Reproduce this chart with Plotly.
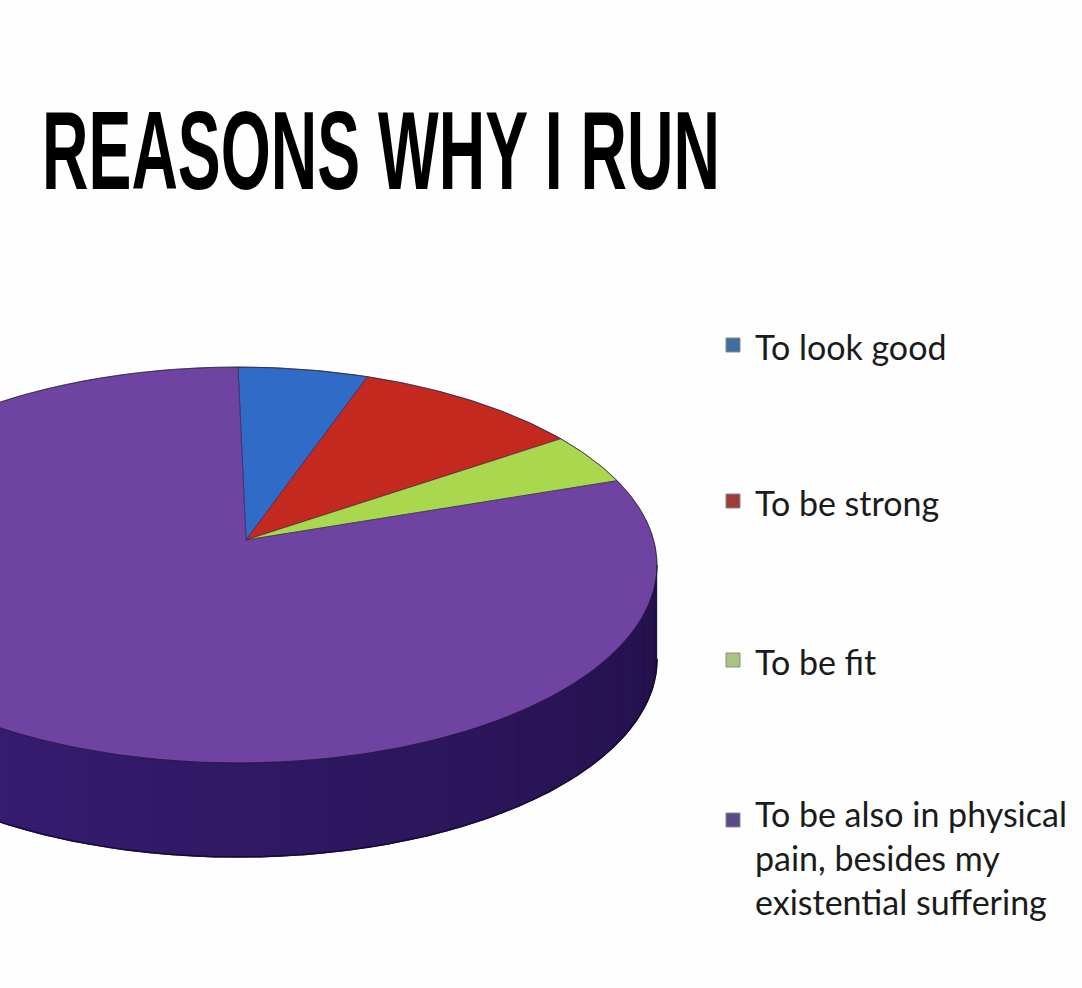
import numpy as np
import plotly.graph_objects as go

# ---- data ----
categories = ["To look good", "To be strong", "To be fit",
              "To be also in physical pain, besides my existential suffering"]
legend_labels = ["To look good", "To be strong", "To be fit",
                 "To be also in physical<br>pain, besides my<br>existential suffering"]
values = [5, 9, 4, 82]
title_text = "REASONS WHY I RUN"

# ---- style ----
top_colors = ["#2f6bc7", "#c4291f", "#a9d84f", "#6f43a1"]
legend_colors = ["#3c6e9e", "#9e3b3b", "#a9c47f", "#5b4a86"]
W, H = 1082, 988
CX, CY, A, B = 238, 565, 419, 198      # ellipse of the pie top
APEX = (246, 540)                       # projected pie centre
DEPTH = 94
LEG_X = 726
LEG_Y = [345, 501, 660, 820]
TITLE_W = 678                           # target rendered width of the title


def ell(t_deg, dy=0.0):
    r = np.radians(t_deg)
    return CX + A * np.sin(r), CY - B * np.cos(r) + dy


def mix(c1, c2, f):
    a = [int(c1[i:i + 2], 16) for i in (1, 3, 5)]
    b = [int(c2[i:i + 2], 16) for i in (1, 3, 5)]
    return "#%02x%02x%02x" % tuple(int(round(a[k] + (b[k] - a[k]) * f)) for k in range(3))


fig = go.Figure()

# side wall (front half, t from 90 to 270), shaded dark (right) -> lighter (left)
N = 60
for k in range(N):
    t0 = 90 + 180 * k / N
    t1 = 90 + 180 * (k + 1) / N
    ts = np.linspace(t0, t1, 5)
    xt, yt = ell(ts)
    xb, yb = ell(ts[::-1], DEPTH)
    f = (k + 0.5) / N
    col = mix("#22104a", "#3e2180", f)
    fig.add_trace(go.Scatter(
        x=np.concatenate([xt, xb]), y=np.concatenate([yt, yb]),
        fill="toself", fillcolor=col, mode="lines",
        line=dict(color=col, width=1.5), hoverinfo="skip", showlegend=False))

# wall bottom outline
ts = np.linspace(90, 270, 200)
xb, yb = ell(ts, DEPTH)
fig.add_trace(go.Scatter(x=xb, y=yb, mode="lines",
                         line=dict(color="#1a0a33", width=1.5),
                         hoverinfo="skip", showlegend=False))

# top face slices
total = float(sum(values))
start = 0.0
for name, v, col in zip(categories, values, top_colors):
    span = 360.0 * v / total
    ts = np.linspace(start, start + span, max(4, int(span * 2)))
    xs, ys = ell(ts)
    xs = np.concatenate([[APEX[0]], xs, [APEX[0]]])
    ys = np.concatenate([[APEX[1]], ys, [APEX[1]]])
    fig.add_trace(go.Scatter(
        x=xs, y=ys, fill="toself", fillcolor=col, mode="lines",
        line=dict(color="rgba(45,25,70,0.55)", width=1),
        name=name, hoverinfo="name", showlegend=False))
    start += span

# top rim outline
ts = np.linspace(0, 360, 400)
xr, yr = ell(ts)
fig.add_trace(go.Scatter(x=xr, y=yr, mode="lines",
                         line=dict(color="rgba(40,20,60,0.6)", width=1),
                         hoverinfo="skip", showlegend=False))

# legend (squares + labels)
shapes = []
annotations = []
for lab, col, y in zip(legend_labels, legend_colors, LEG_Y):
    shapes.append(dict(type="rect", xref="x", yref="y",
                       x0=LEG_X, x1=LEG_X + 14, y0=y - 7, y1=y + 7,
                       fillcolor=col, line=dict(color="#8a8a8a", width=1)))
    nlines = lab.count("<br>") + 1
    annotations.append(dict(
        x=LEG_X + 27, y=y + 1 + (nlines - 1) * 18, xref="x", yref="y",
        text=lab, showarrow=False, xanchor="left", yanchor="middle",
        align="left",
        font=dict(family="Lato, Carlito, 'Noto Sans', sans-serif",
                  size=34, color="#1b1b1b")))

annotations.append(dict(
    x=40, y=150, xref="x", yref="y", text=title_text, showarrow=False,
    xanchor="left", yanchor="middle",
    font=dict(family="'Liberation Sans', Arial, sans-serif",
              size=112, color="#000000", weight=700)))

fig.update_layout(
    width=W, height=H, autosize=False,
    margin=dict(l=0, r=0, t=0, b=0),
    paper_bgcolor="#fefefe", plot_bgcolor="#fefefe",
    xaxis=dict(range=[0, W], visible=False, fixedrange=True),
    yaxis=dict(range=[H, 0], visible=False, fixedrange=True),
    shapes=shapes, annotations=annotations, showlegend=False,
)

# remove the page margin and condense the poster-style title horizontally
post_js = """
document.body.style.margin = '0';
document.body.style.overflow = 'hidden';
(function(){
  var gd = document.getElementById('{plot_id}');
  var ts = gd.querySelectorAll('text.annotation-text');
  ts.forEach(function(t){
    if (t.textContent === '%s') {
      var bb = t.getBBox();
      var sx = %d / bb.width;
      var x0 = bb.x;
      t.setAttribute('transform', 'translate(' + x0 + ',0) scale(' + sx + ',1) translate(' + (-x0) + ',0)');
    }
  });
})();
""" % (title_text, TITLE_W)

fig.write_html("out.html", post_script=post_js,
               config={"displayModeBar": False, "staticPlot": False})
